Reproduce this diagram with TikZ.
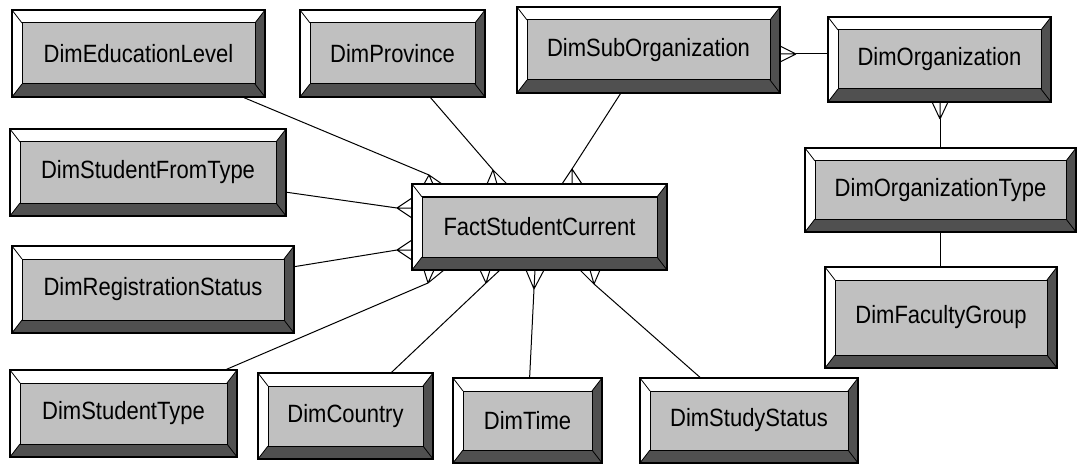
\documentclass[tikz,border=0pt]{standalone}
\usepackage{fontspec}
\setmainfont{Liberation Sans}[FakeStretch=0.88]
\usetikzlibrary{calc}
\definecolor{boxgray}{HTML}{C0C0C0}
\definecolor{bevdark}{HTML}{505050}

\tikzset{
  ent/.style={draw=black, line width=1.4pt, fill=white, inner sep=0pt,
    font=\fontsize{25}{28}\selectfont,
    path picture={
      \path (path picture bounding box.north west) coordinate (bNW)
            (path picture bounding box.north east) coordinate (bNE)
            (path picture bounding box.south east) coordinate (bSE)
            (path picture bounding box.south west) coordinate (bSW);
      \coordinate (iNW) at ($(bNW)+(10,13)$);
      \coordinate (iNE) at ($(bNE)+(-10,13)$);
      \coordinate (iSE) at ($(bSE)+(-10,-13)$);
      \coordinate (iSW) at ($(bSW)+(10,-13)$);
      \fill[bevdark] (bSW) -- (bSE) -- (bNE) -- (iNE) -- (iSE) -- (iSW) -- cycle;
      \filldraw[fill=boxgray, draw=black, line width=1pt] (iNW) rectangle (iSE);
      \draw[line width=0.8pt] (bNW) -- (iNW) (bNE) -- (iNE) (bSE) -- (iSE) (bSW) -- (iSW);
    }},
  rel/.style={draw=black, line width=1pt}
}

% entity box from its corners: name, x1, y1, x2, y2, label
\newcommand\entbox[6]{%
  \node[ent, minimum width={#4-#2}, minimum height={#5-#3}]
    (#1) at ({(#2+#4)/2},{(#3+#5)/2}) {#6};}

% crow's foot: fork point, edge point, prong offset
\newcommand\crowfoot[4]{%
  \draw[rel] (#1) -- ($(#2)+(#3,#4)$) (#1) -- (#2) (#1) -- ($(#2)-(#3,#4)$);}

\begin{document}
\begin{tikzpicture}[x=1pt, y=-1pt]
\useasboundingbox[fill=white] (0,0) rectangle (1078,465);

\entbox{edu}{12}{10}{265}{97}{DimEducationLevel}
\entbox{prov}{300}{10}{485}{97}{DimProvince}
\entbox{sub}{517}{7}{780}{93}{DimSubOrganization}
\entbox{org}{828}{17}{1051}{102}{DimOrganization}
\entbox{otype}{805}{148}{1076}{232}{DimOrganizationType}
\entbox{fac}{825}{267}{1057}{368}{DimFacultyGroup}
\entbox{sft}{10}{129}{286}{216}{DimStudentFromType}
\entbox{reg}{12}{246}{294}{333}{DimRegistrationStatus}
\entbox{fact}{412}{184}{667}{270}{FactStudentCurrent}
\entbox{stype}{10}{370}{237}{457}{DimStudentType}
\entbox{ctry}{258}{373}{433}{459}{DimCountry}
\entbox{time}{453}{378}{602}{463}{DimTime}
\entbox{study}{640}{378}{858}{463}{DimStudyStatus}

% fork points and edge points on FactStudentCurrent
\coordinate (pEdu) at (429,175);   \coordinate (eEdu) at (433,184);
\coordinate (pProv) at (493,170);  \coordinate (eProv) at (497,184);
\coordinate (pSub) at (572,169);   \coordinate (eSub) at (572,184);
\coordinate (pSft) at (397,208);   \coordinate (eSft) at (412,208);
\coordinate (pReg) at (397,250);   \coordinate (eReg) at (412,250);
\coordinate (pStype) at (428,283); \coordinate (eStype) at (434,270);
\coordinate (pCtry) at (486,283);  \coordinate (eCtry) at (490,270);
\coordinate (pTime) at (534,289);  \coordinate (eTime) at (535,270);
\coordinate (pStudy) at (594,284); \coordinate (eStudy) at (590,270);

\draw[rel] (edu) -- (pEdu);     \crowfoot{pEdu}{eEdu}{9}{0}
\draw[rel] (prov) -- (pProv);   \crowfoot{pProv}{eProv}{10}{0}
\draw[rel] (sub) -- (pSub);     \crowfoot{pSub}{eSub}{10}{0}
\draw[rel] (sft) -- (pSft);     \crowfoot{pSft}{eSft}{0}{10}
\draw[rel] (reg) -- (pReg);     \crowfoot{pReg}{eReg}{0}{10}
\draw[rel] (stype) -- (pStype); \crowfoot{pStype}{eStype}{10}{0}
\draw[rel] (ctry) -- (pCtry);   \crowfoot{pCtry}{eCtry}{10}{0}
\draw[rel] (time) -- (pTime);   \crowfoot{pTime}{eTime}{9}{0}
\draw[rel] (study) -- (pStudy); \crowfoot{pStudy}{eStudy}{10}{0}

% organization hierarchy
\coordinate (pSubOrg) at (796,54); \coordinate (eSubOrg) at (780,54);
\draw[rel] (pSubOrg) -- (pSubOrg -| org.west);
\crowfoot{pSubOrg}{eSubOrg}{0}{8}

\coordinate (pOrg) at (940,119); \coordinate (eOrg) at (940,102);
\draw[rel] (pOrg) -- (pOrg |- otype.north);
\crowfoot{pOrg}{eOrg}{8}{0}

\draw[rel] (otype.south -| pOrg) -- (fac.north -| pOrg);
\end{tikzpicture}
\end{document}
